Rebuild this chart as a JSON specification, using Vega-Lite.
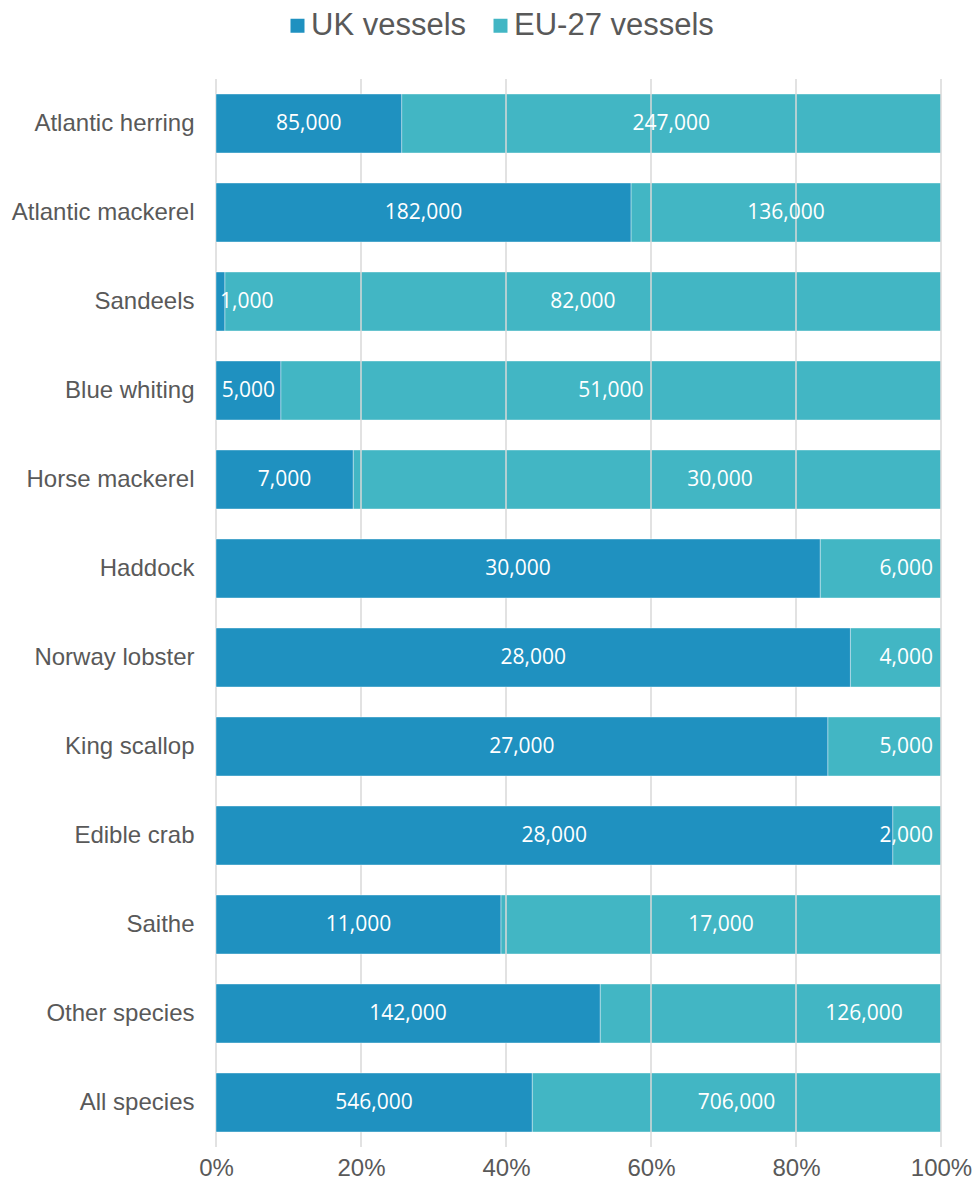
{
  "$schema": "https://vega.github.io/schema/vega-lite/v6.json",
  "width": 725,
  "height": 1068,
  "autosize": {"type": "none"},
  "padding": {"left": 216, "top": 79, "right": 33, "bottom": 40},
  "background": "white",
  "config": {
    "view": {"stroke": null},
    "axisY": {"domain": false, "ticks": false, "tickSize": 0, "grid": false, "labelPadding": 22, "labelFontSize": 24, "labelFont": "Liberation Sans", "labelColor": "#595959", "labelLimit": 300},
    "axisX": {"domain": false, "ticks": false, "tickSize": 0, "grid": false, "labelPadding": 9, "labelFontSize": 24, "labelFont": "Liberation Sans", "labelColor": "#595959", "labelFlush": false, "labelOverlap": false},
    "text": {"font": "Open Sans", "fontSize": 21, "color": "white"}
  },
  "data": {
    "values": [
      {"species": "Atlantic herring", "group": "UK vessels", "value": 85000},
      {"species": "Atlantic herring", "group": "EU-27 vessels", "value": 247000},
      {"species": "Atlantic mackerel", "group": "UK vessels", "value": 182000},
      {"species": "Atlantic mackerel", "group": "EU-27 vessels", "value": 136000},
      {"species": "Sandeels", "group": "UK vessels", "value": 1000},
      {"species": "Sandeels", "group": "EU-27 vessels", "value": 82000},
      {"species": "Blue whiting", "group": "UK vessels", "value": 5000},
      {"species": "Blue whiting", "group": "EU-27 vessels", "value": 51000},
      {"species": "Horse mackerel", "group": "UK vessels", "value": 7000},
      {"species": "Horse mackerel", "group": "EU-27 vessels", "value": 30000},
      {"species": "Haddock", "group": "UK vessels", "value": 30000},
      {"species": "Haddock", "group": "EU-27 vessels", "value": 6000},
      {"species": "Norway lobster", "group": "UK vessels", "value": 28000},
      {"species": "Norway lobster", "group": "EU-27 vessels", "value": 4000},
      {"species": "King scallop", "group": "UK vessels", "value": 27000},
      {"species": "King scallop", "group": "EU-27 vessels", "value": 5000},
      {"species": "Edible crab", "group": "UK vessels", "value": 28000},
      {"species": "Edible crab", "group": "EU-27 vessels", "value": 2000},
      {"species": "Saithe", "group": "UK vessels", "value": 11000},
      {"species": "Saithe", "group": "EU-27 vessels", "value": 17000},
      {"species": "Other species", "group": "UK vessels", "value": 142000},
      {"species": "Other species", "group": "EU-27 vessels", "value": 126000},
      {"species": "All species", "group": "UK vessels", "value": 546000},
      {"species": "All species", "group": "EU-27 vessels", "value": 706000}
    ]
  },
  "layer": [
    {
      "mark": {"type": "bar", "stroke": "white", "strokeWidth": 1, "strokeOpacity": 0.4},
      "encoding": {
        "y": {"field": "species", "type": "nominal", "title": null,
              "sort": ["Atlantic herring", "Atlantic mackerel", "Sandeels", "Blue whiting", "Horse mackerel", "Haddock", "Norway lobster", "King scallop", "Edible crab", "Saithe", "Other species", "All species"],
              "scale": {"paddingInner": 0.337, "paddingOuter": 0.1685}},
        "x": {"field": "value", "type": "quantitative", "stack": "normalize", "title": null,
              "axis": {"format": ".0%", "values": [0, 0.2, 0.4, 0.6, 0.8, 1]}},
        "color": {"field": "group", "type": "nominal",
                  "scale": {"domain": ["UK vessels", "EU-27 vessels"], "range": ["#1F91C0", "#42B6C4"]},
                  "legend": {"title": null, "orient": "none", "direction": "horizontal", "legendX": 66, "legendY": -69,
                             "symbolType": "square", "symbolSize": 196, "symbolStrokeWidth": 0, "labelFontSize": 31, "labelLimit": 400,
                             "labelFont": "Liberation Sans", "labelColor": "#595959", "labelOffset": -2, "columnPadding": 18}},
        "order": {"field": "group", "sort": "descending"}
      }
    },
    {
      "data": {"values": [{"tick": 0}, {"tick": 0.2}, {"tick": 0.4}, {"tick": 0.6}, {"tick": 0.8}, {"tick": 1}]},
      "mark": {"type": "rule", "color": "#d9d9d9", "strokeWidth": 1.5},
      "encoding": {"x": {"field": "tick", "type": "quantitative", "title": null,
                         "axis": {"format": ".0%", "values": [0, 0.2, 0.4, 0.6, 0.8, 1]}}}
    },
    {
      "mark": {"type": "bar", "stroke": "white", "strokeWidth": 1, "strokeOpacity": 0.4},
      "encoding": {
        "y": {"field": "species", "type": "nominal", "title": null,
              "sort": ["Atlantic herring", "Atlantic mackerel", "Sandeels", "Blue whiting", "Horse mackerel", "Haddock", "Norway lobster", "King scallop", "Edible crab", "Saithe", "Other species", "All species"]},
        "x": {"field": "value", "type": "quantitative", "stack": "normalize", "title": null,
              "axis": {"format": ".0%", "values": [0, 0.2, 0.4, 0.6, 0.8, 1]}},
        "color": {"field": "group", "type": "nominal"},
        "opacity": {"condition": {"test": "datum.group === 'UK vessels'", "value": 1}, "value": 0},
        "order": {"field": "group", "sort": "descending"}
      }
    },
    {
      "mark": {"type": "text", "align": "center", "baseline": "middle"},
      "encoding": {
        "y": {"field": "species", "type": "nominal", "title": null,
              "sort": ["Atlantic herring", "Atlantic mackerel", "Sandeels", "Blue whiting", "Horse mackerel", "Haddock", "Norway lobster", "King scallop", "Edible crab", "Saithe", "Other species", "All species"]},
        "x": {"field": "value", "type": "quantitative", "stack": "normalize", "bandPosition": 0.5, "title": null,
              "axis": {"format": ".0%", "values": [0, 0.2, 0.4, 0.6, 0.8, 1]}},
        "detail": {"field": "group", "type": "nominal"},
        "order": {"field": "group", "sort": "descending"},
        "text": {"condition": {"test": "(datum.group === 'UK vessels' && datum.species !== 'Sandeels') || (datum.group === 'EU-27 vessels' && indexof(['Haddock','Norway lobster','King scallop','Edible crab','Horse mackerel','Other species'], datum.species) < 0)", "field": "value", "type": "quantitative", "format": ","}, "value": ""}
      }
    },
    {
      "mark": {"type": "text", "align": "right", "baseline": "middle", "dx": -8},
      "encoding": {
        "y": {"field": "species", "type": "nominal", "title": null,
              "sort": ["Atlantic herring", "Atlantic mackerel", "Sandeels", "Blue whiting", "Horse mackerel", "Haddock", "Norway lobster", "King scallop", "Edible crab", "Saithe", "Other species", "All species"]},
        "x": {"field": "value", "type": "quantitative", "stack": "normalize", "bandPosition": 1, "title": null,
              "axis": {"format": ".0%", "values": [0, 0.2, 0.4, 0.6, 0.8, 1]}},
        "detail": {"field": "group", "type": "nominal"},
        "order": {"field": "group", "sort": "descending"},
        "text": {"condition": {"test": "datum.group === 'EU-27 vessels' && indexof(['Haddock','Norway lobster','King scallop','Edible crab'], datum.species) >= 0", "field": "value", "type": "quantitative", "format": ","}, "value": ""}
      }
    },
    {
      "mark": {"type": "text", "align": "left", "baseline": "middle", "dx": 4},
      "encoding": {
        "y": {"field": "species", "type": "nominal", "title": null,
              "sort": ["Atlantic herring", "Atlantic mackerel", "Sandeels", "Blue whiting", "Horse mackerel", "Haddock", "Norway lobster", "King scallop", "Edible crab", "Saithe", "Other species", "All species"]},
        "x": {"field": "value", "type": "quantitative", "stack": "normalize", "bandPosition": 0, "title": null,
              "axis": {"format": ".0%", "values": [0, 0.2, 0.4, 0.6, 0.8, 1]}},
        "detail": {"field": "group", "type": "nominal"},
        "order": {"field": "group", "sort": "descending"},
        "text": {"condition": {"test": "datum.group === 'UK vessels' && datum.species === 'Sandeels'", "field": "value", "type": "quantitative", "format": ","}, "value": ""}
      }
    },
    {
      "mark": {"type": "text", "align": "center", "baseline": "middle"},
      "encoding": {
        "y": {"field": "species", "type": "nominal", "title": null,
              "sort": ["Atlantic herring", "Atlantic mackerel", "Sandeels", "Blue whiting", "Horse mackerel", "Haddock", "Norway lobster", "King scallop", "Edible crab", "Saithe", "Other species", "All species"]},
        "x": {"field": "value", "type": "quantitative", "stack": "normalize", "bandPosition": 0.624, "title": null,
              "axis": {"format": ".0%", "values": [0, 0.2, 0.4, 0.6, 0.8, 1]}},
        "detail": {"field": "group", "type": "nominal"},
        "order": {"field": "group", "sort": "descending"},
        "text": {"condition": {"test": "datum.group === 'EU-27 vessels' && datum.species === 'Horse mackerel'", "field": "value", "type": "quantitative", "format": ","}, "value": ""}
      }
    },
    {
      "mark": {"type": "text", "align": "center", "baseline": "middle"},
      "encoding": {
        "y": {"field": "species", "type": "nominal", "title": null,
              "sort": ["Atlantic herring", "Atlantic mackerel", "Sandeels", "Blue whiting", "Horse mackerel", "Haddock", "Norway lobster", "King scallop", "Edible crab", "Saithe", "Other species", "All species"]},
        "x": {"field": "value", "type": "quantitative", "stack": "normalize", "bandPosition": 0.774, "title": null,
              "axis": {"format": ".0%", "values": [0, 0.2, 0.4, 0.6, 0.8, 1]}},
        "detail": {"field": "group", "type": "nominal"},
        "order": {"field": "group", "sort": "descending"},
        "text": {"condition": {"test": "datum.group === 'EU-27 vessels' && datum.species === 'Other species'", "field": "value", "type": "quantitative", "format": ","}, "value": ""}
      }
    }
  ]
}
